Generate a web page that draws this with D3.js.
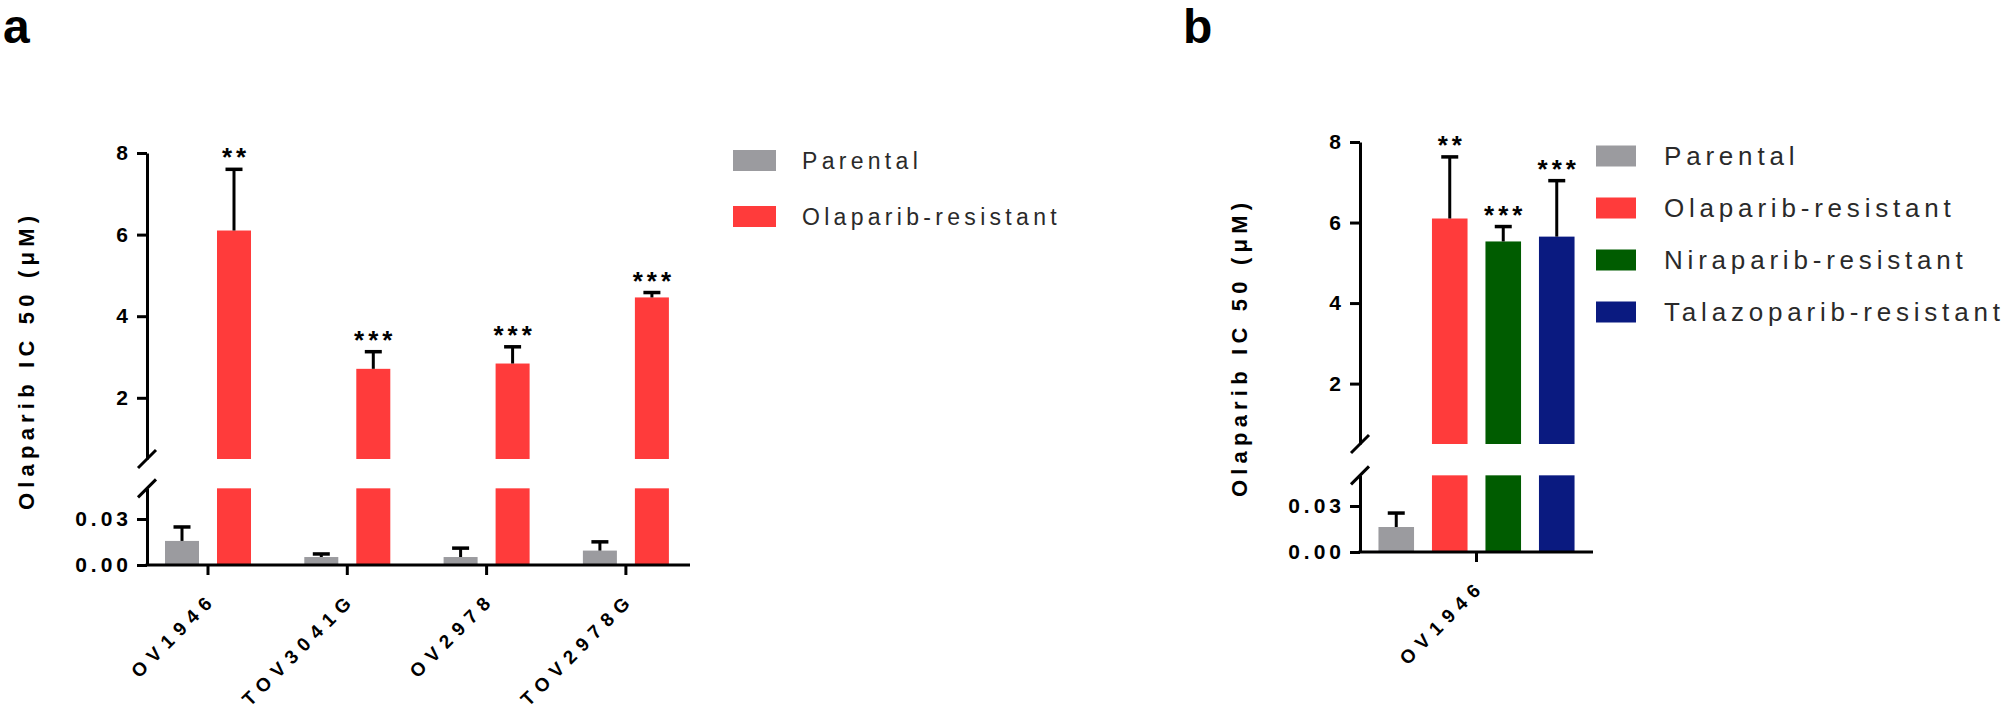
<!DOCTYPE html>
<html>
<head>
<meta charset="utf-8">
<script src="https://cdn.jsdelivr.net/npm/d3@7"></script>
<style>
  body { margin: 0; background: #fff; }
  svg { display: block; font-family: "Liberation Sans", Arial, sans-serif; }
</style>
</head>
<body>
<svg id="chart"></svg>
<script>
// panel a data
var cellLines = ["OV1946", "TOV3041G", "OV2978", "TOV2978G"];
var seriesA = ["Parental", "Olaparib-resistant"];
var parentalMean = [0.0157, 0.0052, 0.0052, 0.0094];
var parentalErr = [0.0091, 0.0020, 0.0058, 0.0057];
var olaparibMean = [6.10, 2.71, 2.84, 4.46];
var olaparibErr = [1.50, 0.42, 0.41, 0.12];
var starsA = ["**", "***", "***", "***"];

// panel b data
var cellLineB = ["OV1946"];
var seriesB = ["Parental", "Olaparib-resistant", "Niraparib-resistant", "Talazoparib-resistant"];
var meanB = [0.0163, 6.10, 5.53, 5.65];
var errB = [0.0091, 1.53, 0.37, 1.39];
var starsB = ["", "**", "***", "***"];

var colors = ["#9b9b9f", "#ff3b3b", "#005c00", "#0a1a80"];
var upperTicks = [2, 4, 6, 8];
var lowerTicks = [0, 0.03];
var breakAt = 0.05;

var width = 2007, height = 714;
var svg = d3.select("#chart").attr("width", width).attr("height", height);
svg.append("rect").attr("width", width).attr("height", height).attr("fill", "#fff");

function drawPanel(p) {
    var g = svg.append("g");
    var yUp = d3.scaleLinear().domain([0.5, 8]).range([p.upBottom, p.top]);
    var yLo = d3.scaleLinear().domain([0, breakAt]).range([p.zero, p.zero - p.px003 / 0.03 * breakAt]);

    var x0 = d3.scaleBand().domain(p.groups).range(p.xRange);
    var bw = x0.bandwidth();
    var x1 = d3.scaleBand().domain(p.series)
        .range([bw / 2 - p.half, bw / 2 + p.half])
        .paddingInner(p.pad).paddingOuter(p.pad / 2);

    // bars, with the part above the break drawn on the upper scale
    p.rows.forEach(function(r) {
        var x = x0(r.group) + x1(r.series);
        var w = x1.bandwidth();
        var v = r.mean, e = r.err;
        if (v > breakAt) {
            g.append("rect").attr("x", x).attr("width", w)
                .attr("y", yLo(breakAt)).attr("height", yLo(0) - yLo(breakAt))
                .attr("fill", r.color);
            g.append("rect").attr("x", x).attr("width", w)
                .attr("y", yUp(v)).attr("height", yUp(0.5) - yUp(v))
                .attr("fill", r.color);
        } else {
            g.append("rect").attr("x", x).attr("width", w)
                .attr("y", yLo(v)).attr("height", yLo(0) - yLo(v))
                .attr("fill", r.color);
        }
        var sc = v > breakAt ? yUp : yLo;
        var cx = x + w / 2;
        g.append("line").attr("x1", cx).attr("x2", cx)
            .attr("y1", sc(v)).attr("y2", sc(v + e))
            .attr("stroke", "#000").attr("stroke-width", 3);
        g.append("line").attr("x1", cx - 8.5).attr("x2", cx + 8.5)
            .attr("y1", sc(v + e)).attr("y2", sc(v + e))
            .attr("stroke", "#000").attr("stroke-width", 3.5);
        if (r.stars) {
            g.append("text").text(r.stars)
                .attr("x", cx + 2).attr("y", sc(v + e) - 3)
                .attr("text-anchor", "middle")
                .style("font-size", "26px").style("font-weight", "bold")
                .style("letter-spacing", "4px");
        }
    });

    // y axes (two segments)
    var ls = 4;
    function styleAxis(sel) {
        sel.selectAll("path, line").attr("stroke", "#000").attr("stroke-width", 3);
        sel.selectAll("text")
            .attr("x", -19 + ls)
            .style("font-size", "21px").style("font-weight", "bold")
            .style("letter-spacing", ls + "px").attr("fill", "#000");
    }
    var axUp = g.append("g").attr("transform", "translate(" + p.axisX + ",0)")
        .call(d3.axisLeft(yUp).tickValues(upperTicks).tickSize(10).tickSizeOuter(0)
            .tickFormat(d3.format("d")));
    styleAxis(axUp);
    var axLo = g.append("g").attr("transform", "translate(" + p.axisX + ",0)")
        .call(d3.axisLeft(yLo).tickValues(lowerTicks).tickSize(10).tickSizeOuter(0)
            .tickFormat(d3.format(".2f")));
    styleAxis(axLo);

    // break marks
    [yUp(0.5), yLo(breakAt)].forEach(function(yb) {
        g.append("line")
            .attr("x1", p.axisX - 9).attr("y1", yb + 9)
            .attr("x2", p.axisX + 9).attr("y2", yb - 9)
            .attr("stroke", "#000").attr("stroke-width", 3);
    });

    // x axis
    var axX = g.append("g").attr("transform", "translate(0," + p.zero + ")")
        .call(d3.axisBottom(x0).tickSize(10).tickSizeOuter(0));
    axX.select(".domain").remove();
    axX.selectAll("line").attr("stroke", "#000").attr("stroke-width", 3);
    axX.selectAll("text").remove();
    g.append("line").attr("x1", p.axisX - 1.5).attr("x2", p.axisEnd)
        .attr("y1", p.zero).attr("y2", p.zero)
        .attr("stroke", "#000").attr("stroke-width", 3);

    var xls = 7;
    p.groups.forEach(function(c) {
        var px = x0(c) + bw / 2 + 5, py = p.zero + 40;
        g.append("text").text(c)
            .attr("transform", "translate(" + px + "," + py + ") rotate(-45)")
            .attr("x", xls)
            .attr("text-anchor", "end")
            .style("font-size", "19px").style("font-weight", "bold")
            .style("letter-spacing", xls + "px");
    });

    // y label
    var yl = 5.2;
    g.append("text").text("Olaparib IC 50 (\u03bcM)")
        .attr("transform", "translate(" + (p.axisX - 113) + "," + p.labelY + ") rotate(-90)")
        .attr("x", yl / 2)
        .attr("text-anchor", "middle")
        .style("font-size", "22px").style("font-weight", "bold")
        .style("letter-spacing", yl + "px");

    // legend
    p.series.forEach(function(s, i) {
        var cy = p.legY + i * p.legStep;
        g.append("rect").attr("x", p.legX).attr("y", cy - p.boxH / 2)
            .attr("width", p.boxW).attr("height", p.boxH).attr("fill", colors[i]);
        g.append("text").text(s)
            .attr("x", p.legTextX).attr("y", cy + p.legFont * 0.35)
            .attr("fill", "#2a2a2a")
            .style("font-size", p.legFont + "px")
            .style("letter-spacing", p.legLs + "px");
    });

    g.append("text").text(p.letter)
        .attr("x", p.letterX).attr("y", 43)
        .style("font-size", "48px").style("font-weight", "bold");
}

var rowsA = [];
cellLines.forEach(function(c, i) {
    rowsA.push({group: c, series: seriesA[0], mean: parentalMean[i], err: parentalErr[i], color: colors[0], stars: ""});
    rowsA.push({group: c, series: seriesA[1], mean: olaparibMean[i], err: olaparibErr[i], color: colors[1], stars: starsA[i]});
});

drawPanel({
    letter: "a", letterX: 3,
    groups: cellLines, series: seriesA, rows: rowsA,
    top: 153, upBottom: 459, zero: 565, px003: 46,
    axisX: 147, axisEnd: 690, xRange: [138.35, 695.55],
    half: 52, pad: 0.346,
    labelY: 363,
    legX: 733, legTextX: 802, legY: 160.5, legStep: 56, boxW: 43, boxH: 21,
    legFont: 23, legLs: 4.3
});

var rowsB = seriesB.map(function(s, i) {
    return {group: cellLineB[0], series: s, mean: meanB[i], err: errB[i], color: colors[i], stars: starsB[i]};
});

drawPanel({
    letter: "b", letterX: 1183,
    groups: cellLineB, series: seriesB, rows: rowsB,
    top: 142, upBottom: 444, zero: 552, px003: 46,
    axisX: 1360, axisEnd: 1593, xRange: [1360, 1593],
    half: 107, pad: 0.335,
    labelY: 350,
    legX: 1596, legTextX: 1664, legY: 156, legStep: 52, boxW: 40, boxH: 21,
    legFont: 26, legLs: 4.8
});
</script>
</body>
</html>
